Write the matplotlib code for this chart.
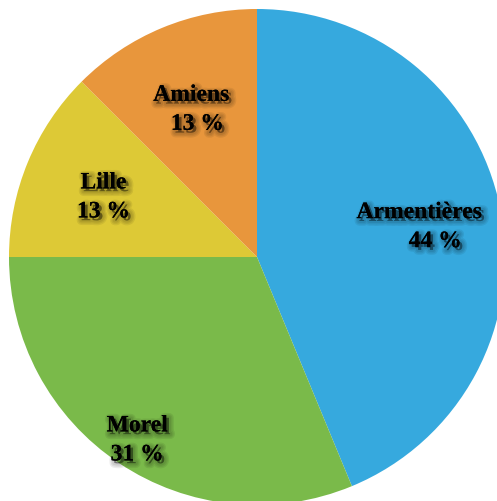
import numpy as np
import matplotlib
matplotlib.use("Agg")
import matplotlib.pyplot as plt
import matplotlib.patheffects as pe

# données
villes = ["Armentières", "Morel", "Lille", "Amiens"]
parts = [43.75, 31.25, 12.5, 12.5]
etiquettes = ["44 %", "31 %", "13 %", "13 %"]
couleurs = ["#36a9de", "#7aba4a", "#ddc936", "#e8963c"]

# placement des étiquettes (rayon relatif, décalages en px nom / pourcentage)
rayons = [0.70, 0.87, 0.67, 0.66]
dx_nom = [-8, 0, 0, -3]
dx_pct = [8, 0, 0, 3]

R = 248.0  # rayon en px
fig = plt.figure(figsize=(4.97, 5.01), dpi=100)
ax = fig.add_axes([0, 0, 1, 1])
wedges, _ = ax.pie(parts, colors=couleurs, startangle=90, counterclock=False,
                   radius=1.0, wedgeprops=dict(linewidth=0))
ax.set_xlim(-257 / R, 240 / R)
ax.set_ylim(-244 / R, 257 / R)
ax.set_aspect("equal")
ax.axis("off")

# ombre floue : plusieurs contours décalés et transparents
ombre = [pe.Stroke(linewidth=lw, foreground="black", alpha=0.07, offset=(2, -2))
         for lw in (7, 5, 3)]
ombre += [pe.withSimplePatchShadow(offset=(2, -2), shadow_rgbFace="black", alpha=0.3),
          pe.Normal()]
for w, nom, pct, r, dn, dp in zip(wedges, villes, etiquettes, rayons, dx_nom, dx_pct):
    a = np.deg2rad((w.theta1 + w.theta2) / 2)
    x, y = r * np.cos(a), r * np.sin(a) - 4 / R
    ax.text(x + dn / R, y + 14.5 / R, nom, ha="center", va="center",
            family="Liberation Serif", weight="bold", fontsize=17, path_effects=ombre)
    ax.text(x + dp / R, y - 14.5 / R, pct, ha="center", va="center",
            family="Liberation Serif", weight="bold", fontsize=17, path_effects=ombre)

fig.savefig("out.png", dpi=100)
